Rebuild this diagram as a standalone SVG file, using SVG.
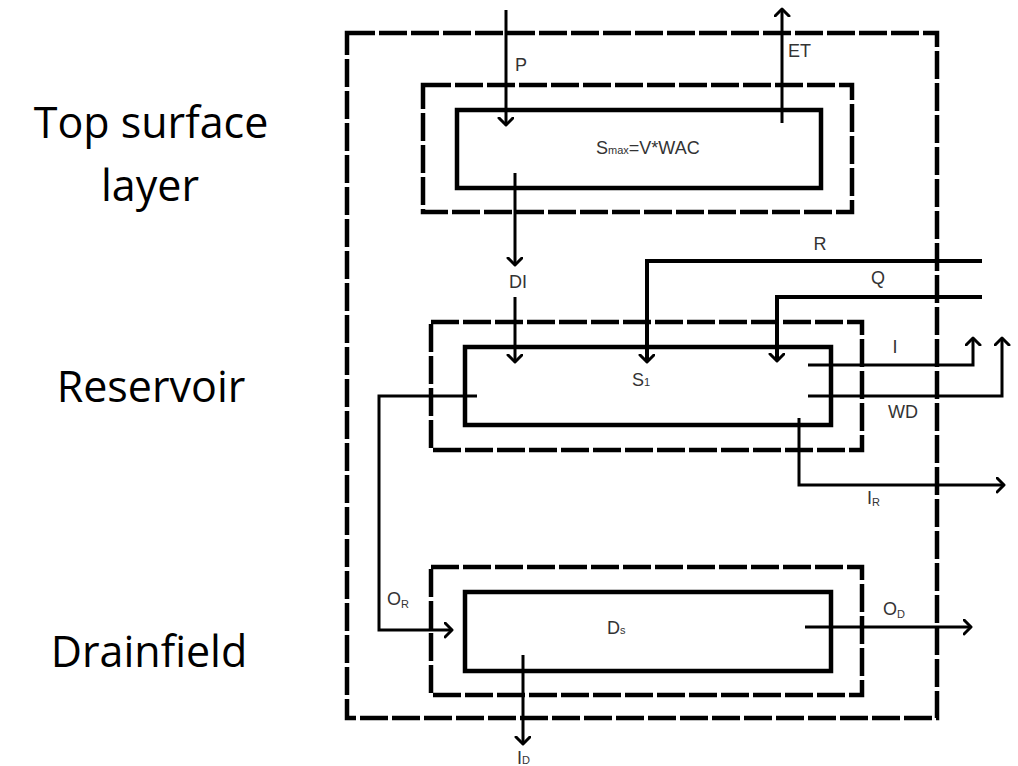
<svg xmlns="http://www.w3.org/2000/svg" width="1018" height="766" viewBox="0 0 1018 766">
<defs>
<marker id="arr" markerUnits="userSpaceOnUse" markerWidth="20" markerHeight="20" refX="8" refY="8" orient="auto" viewBox="0 0 20 20">
<path d="M1,1 L8,8 L1,15" fill="none" stroke="#000" stroke-width="3" stroke-linecap="round" stroke-linejoin="round"/>
</marker>
<style>
.dash{fill:none;stroke:#000;stroke-width:4.5;stroke-dasharray:28 4;}
.box{fill:none;stroke:#000;stroke-width:4.5;}
.con{fill:none;stroke:#000;stroke-width:3;stroke-linejoin:miter;marker-end:url(#arr);}
.thick{stroke-width:4;}
.lbl{font-family:"Liberation Sans",Arial,sans-serif;font-size:18px;fill:#333;}
.sub{font-size:11px;}
.side{font-family:"Open Sans","Liberation Sans",sans-serif;font-size:43px;fill:#000;text-anchor:middle;}
</style>
</defs>
<rect width="1018" height="766" fill="#fff"/>

<g id="side-labels">
<text class="side" x="151" y="138">Top surface</text>
<text class="side" x="150" y="201">layer</text>
<text class="side" x="151" y="402">Reservoir</text>
<text class="side" x="149" y="667">Drainfield</text>
</g>

<g id="boundary">
<rect class="dash" x="347" y="33" width="590" height="685"/>
</g>

<g id="top-layer">
<rect class="dash" x="423" y="85" width="429" height="127"/>
<rect class="box" x="457" y="110" width="364" height="78"/>
<text class="lbl" x="596" y="154">S<tspan class="sub">max</tspan>=V*WAC</text>
</g>

<g id="reservoir">
<rect class="dash" x="431" y="322" width="431" height="128"/>
<rect class="box" x="465" y="347" width="366" height="78"/>
<text class="lbl" x="632" y="386">S<tspan class="sub">1</tspan></text>
</g>

<g id="drainfield">
<rect class="dash" x="431" y="567" width="431" height="128"/>
<rect class="box" x="465" y="592" width="366" height="79"/>
<text class="lbl" x="607" y="634">D<tspan class="sub">s</tspan></text>
</g>

<g id="connectors">
<path class="con" d="M506,10 V125"/>
<path class="con" d="M782,123 V9"/>
<path class="con" d="M515,173 V265"/>
<path class="con" d="M515,297 V362"/>
<path class="con thick" d="M982,261 H647 V362"/>
<path class="con thick" d="M982,297 H777 V361"/>
<path class="con" d="M808,365 H973 V338"/>
<path class="con" d="M808,396 H1002 V338"/>
<path class="con" d="M799,418 V485 H1004"/>
<path class="con" d="M477,396 H379 V630 H452"/>
<path class="con" d="M805,627 H971"/>
<path class="con" d="M523,655 V744"/>
</g>

<g id="flow-labels">
<text class="lbl" x="515" y="71">P</text>
<text class="lbl" x="788" y="57">ET</text>
<text class="lbl" x="518" y="288" text-anchor="middle">DI</text>
<text class="lbl" x="820" y="250" text-anchor="middle">R</text>
<text class="lbl" x="878" y="284" text-anchor="middle">Q</text>
<text class="lbl" x="895" y="353" text-anchor="middle">I</text>
<text class="lbl" x="903" y="418" text-anchor="middle">WD</text>
<text class="lbl" x="867" y="504">I<tspan class="sub" dy="2">R</tspan></text>
<text class="lbl" x="387" y="605">O<tspan class="sub" dy="3">R</tspan></text>
<text class="lbl" x="883" y="615">O<tspan class="sub" dy="3">D</tspan></text>
<text class="lbl" x="517" y="764">I<tspan class="sub">D</tspan></text>
</g>
</svg>
